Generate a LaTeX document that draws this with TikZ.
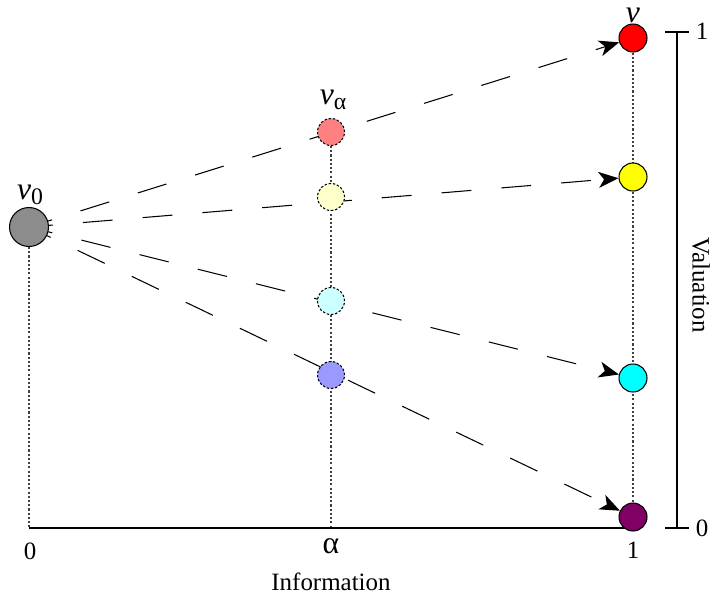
\documentclass[tikz,border=0pt]{standalone}
\usepackage{fontspec}
\setmainfont{Liberation Serif}
\newfontfamily\labelfont{Liberation Serif}
\usetikzlibrary{arrows.meta,backgrounds}
\definecolor{fullred}{RGB}{255,0,0}
\definecolor{fullyellow}{RGB}{255,255,0}
\definecolor{fullcyan}{RGB}{0,255,255}
\definecolor{fullblue}{RGB}{0,0,255}
\definecolor{plum}{RGB}{128,0,100}
\definecolor{startgray}{RGB}{140,140,140}
\newcommand\varv{{\labelfont\fontsize{18}{18}\selectfont\itshape v}}
\newcommand\lowsub[1]{\raisebox{-0.45ex}{\labelfont\fontsize{13.5}{14}\selectfont #1}}
\begin{document}
\begin{tikzpicture}[x=0.02cm,y=-0.02cm,
  every node/.style={font=\labelfont\fontsize{14.2}{16}\selectfont},
  final/.style={circle,draw,line width=0.6pt,minimum size=0.56cm,inner sep=0pt},
  partial/.style={circle,draw,line width=0.6pt,dash pattern=on 1.4pt off 1pt,minimum size=0.54cm,inner sep=0pt},
  path/.style={line width=0.6pt,dash pattern=on 0.6cm off 0.6cm,dash phase=0.12cm,
    -{Stealth[length=0.4cm,width=0.32cm,inset=0.11cm]}},
  guide/.style={black!75,line width=0.6pt,dash pattern=on 1.2pt off 1.2pt},
  axis/.style={line width=0.7pt}]
\useasboundingbox (0,0) rectangle (710,600);

% start point
\node[circle,draw,line width=0.6pt,fill=startgray,minimum size=0.78cm,inner sep=0pt] (v0) at (29,227) {};

% intermediate valuations at alpha
\node[partial,fill=fullred!50]    (ma) at (331,132) {};
\node[partial,fill=fullyellow!20] (mb) at (331,197) {};
\node[partial,fill=fullcyan!20]   (mc) at (331,301) {};
\node[partial,fill=fullblue!40]   (md) at (331,375) {};

% final valuations
\node[final,fill=fullred]    (ra) at (633,38) {};
\node[final,fill=fullyellow] (rb) at (633,177) {};
\node[final,fill=fullcyan]   (rc) at (633,378) {};
\node[final,fill=plum]       (rd) at (633,517) {};

% axis coordinates
\coordinate (o)  at (29,528);
\coordinate (oa) at (331,528);
\coordinate (oe) at (633,528);
\coordinate (vt) at (677,32);
\coordinate (vb) at (677,528);

\begin{scope}[on background layer]
  \draw[guide] (v0) -- (o);
  \draw[guide] (ma) -- (oa);
  \draw[guide] (ra) -- (oe);
  \draw[axis] (o) -- (oe);
  \draw[path] (v0.center) -- (ra);
  \draw[path] (v0.center) -- (rb);
  \draw[path] (v0.center) -- (rc);
  \draw[path] (v0.center) -- (rd);
\end{scope}

% valuation scale
\draw[axis] (vt) -- (vb);
\draw[axis] ([xshift=-0.24cm]vt) -- ([xshift=0.24cm]vt);
\draw[axis] ([xshift=-0.24cm]vb) -- ([xshift=0.24cm]vb);
\node (one) at (702,31) {1};
\node (zero) at (702,528) {0};
\node[rotate=-90] (val) at (701,285) {Valuation};

% information axis labels
\node (l0) at (30,551) {0};
\node[font=\labelfont\fontsize{18}{18}\selectfont] (la) at (331,546) {α};
\node (l1) at (633,550) {1};
\node (info) at (331,582) {Information};

% point labels
\node (t0) at (30,195) {\varv\lowsub{0}};
\node (ta) at (333,100) {\varv\lowsub{α}};
\node (tv) at (633,15) {\varv};
\end{tikzpicture}
\end{document}
